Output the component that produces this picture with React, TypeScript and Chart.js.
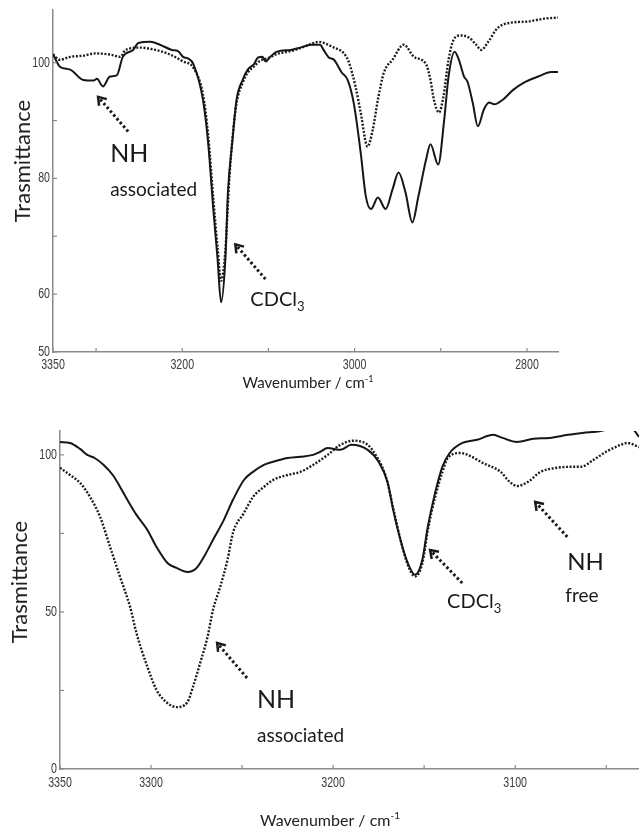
import React, { useEffect, useRef } from 'react';
import { Chart, registerables } from 'chart.js';

Chart.register(...registerables);

// ---------- Top chart data ----------
const topSolidWavenumber = [
  3350, 3342, 3330, 3315, 3303, 3299, 3292, 3284, 3276, 3269, 3257, 3251, 3237, 3226, 3212, 3205, 3199, 3193, 3187,
  3176, 3170, 3164, 3159, 3155, 3150, 3147, 3142, 3137, 3130, 3124, 3117, 3112, 3107, 3103, 3098, 3090, 3074, 3063,
  3051, 3040, 3036, 3030, 3024, 3015, 3008, 3001, 2993, 2987, 2981, 2973, 2964, 2956, 2949, 2941, 2933, 2926, 2917,
  2912, 2903, 2896, 2891, 2884, 2879, 2873, 2869, 2863, 2857, 2850, 2844, 2838, 2828, 2816, 2803, 2787, 2772, 2763,
];
const topSolidTransmittance = [
  101.5, 99.3, 98.8, 97.0, 96.9, 97.2, 95.9, 97.6, 97.8, 101.0, 102.2, 103.4, 103.6, 103.1, 102.2, 102.0, 101.0, 100.7, 99.7,
  93.6, 86.2, 74.7, 66.0, 58.6, 66.0, 77.6, 86.2, 93.6, 97.0, 98.8, 99.7, 100.9, 101.0, 100.2, 101.0, 101.9, 102.2, 102.6,
  103.1, 103.1, 102.2, 100.9, 100.5, 98.3, 97.0, 93.0, 84.5, 76.9, 74.7, 76.7, 74.7, 78.1, 81.0, 77.6, 72.4, 76.9, 83.3,
  85.9, 82.4, 90.2, 97.6, 101.9, 100.5, 97.6, 96.7, 93.1, 89.0, 91.9, 93.1, 92.8, 93.6, 95.3, 96.6, 97.6, 98.4, 98.4,
];
const topDottedWavenumber = [
  3350, 3342, 3330, 3315, 3301, 3284, 3272, 3266, 3249, 3231, 3214, 3199, 3187, 3176, 3170, 3164, 3159, 3155, 3150,
  3146, 3142, 3137, 3130, 3124, 3117, 3110, 3100, 3090, 3074, 3063, 3051, 3042, 3024, 3013, 3007, 2999, 2993, 2985,
  2979, 2973, 2966, 2956, 2943, 2931, 2917, 2912, 2908, 2902, 2897, 2891, 2885, 2877, 2867, 2859, 2853, 2845, 2834,
  2819, 2800, 2780, 2764,
];
const topDottedTransmittance = [
  101.4, 100.5, 101.0, 101.2, 101.6, 101.4, 101.0, 102.2, 102.6, 102.2, 101.4, 100.2, 99.1, 94.5, 87.5, 76.5, 68.0, 62.3, 67.5,
  78.5, 86.5, 93.0, 96.5, 98.3, 99.3, 100.3, 100.8, 101.5, 102.0, 102.5, 103.2, 103.6, 102.6, 101.7, 100.2, 95.9, 91.4, 85.5,
  88.4, 93.6, 98.3, 100.5, 103.1, 101.0, 99.7, 97.0, 93.6, 91.4, 94.1, 100.5, 104.0, 104.7, 104.3, 103.1, 102.2, 103.6, 106.0,
  106.9, 107.1, 107.6, 107.8,
];
const topXTicks = [2800, 2900, 3000, 3100, 3200, 3300, 3350];
const topXLabels = [2800, 3000, 3200, 3350];
const topYTicks = [50, 60, 70, 80, 90, 100];
const topYLabels = [50, 60, 80, 100];

// ---------- Bottom chart data ----------
const bottomSolidWavenumber = [
  3350, 3344.5, 3339, 3335, 3331, 3326, 3321, 3317, 3313, 3308, 3302, 3297, 3291, 3286, 3280, 3275, 3271, 3266, 3260,
  3255, 3249, 3244, 3238, 3233, 3225, 3218, 3211, 3207, 3203, 3196, 3190, 3181, 3175, 3170, 3167, 3163, 3159, 3155,
  3151, 3148, 3144, 3140, 3136, 3129, 3121, 3112, 3107, 3099, 3090, 3081, 3071, 3063, 3053, 3048, 3041, 3035, 3032,
];
const bottomSolidTransmittance = [
  104.1, 103.8, 101.9, 100.0, 99.0, 96.8, 93.6, 89.8, 85.7, 80.9, 76.1, 70.7, 65.6, 64.0, 62.7, 64.0, 67.5, 72.9, 79.3,
  85.7, 92.0, 94.6, 96.8, 97.8, 99.0, 99.4, 100.0, 101.0, 102.2, 101.6, 103.2, 101.6, 97.8, 91.1, 82.5, 72.9, 65.6, 61.8,
  66.6, 77.1, 87.9, 96.2, 100.6, 103.8, 104.8, 106.4, 105.4, 104.1, 105.1, 105.4, 106.4, 107.0, 107.6, 108.3, 109.5, 108.0, 105.7,
];
const bottomDottedWavenumber = [
  3350, 3344.5, 3339, 3333.5, 3328, 3322.5, 3317, 3311.5, 3308, 3302, 3297, 3291, 3286, 3280, 3277, 3273, 3269, 3266, 3262,
  3258, 3255, 3249, 3244, 3238, 3233, 3225, 3218, 3211, 3203, 3196, 3189, 3181, 3176, 3171, 3167, 3163, 3159, 3155, 3151,
  3148, 3144, 3140, 3137, 3130, 3126, 3118, 3108, 3103, 3099, 3093, 3086, 3077, 3070, 3064, 3057, 3050, 3042, 3038.5, 3032,
];
const bottomDottedTransmittance = [
  95.9, 93.6, 91.1, 86.6, 80.3, 70.7, 61.1, 51.6, 43.3, 32.5, 25.2, 21.0, 19.7, 21.3, 26.1, 33.8, 42.0, 50.6, 58.0,
  66.6, 75.2, 81.5, 86.6, 89.8, 92.0, 93.6, 94.6, 96.8, 100.0, 103.2, 104.5, 103.2, 99.4, 93.0, 83.0, 73.0, 65.0, 61.3, 65.5,
  76.0, 86.5, 94.5, 99.0, 100.6, 100.0, 97.5, 94.6, 91.4, 90.1, 91.4, 94.6, 95.9, 96.2, 96.2, 98.4, 101.0, 103.2, 103.8, 102.5,
];
const bottomXTicks = [3050, 3100, 3150, 3200, 3250, 3300, 3350];
const bottomXLabels = [3100, 3200, 3300, 3350];
const bottomYTicks = [0, 25, 50, 75, 100];
const bottomYLabels = [0, 50, 100];

const AXIS_TITLE_Y = 'Trasmittance';
const AXIS_TITLE_X = 'Wavenumber / cm';
const AXIS_TITLE_X_SUP = '-1';

const ANNOT_FONT = 'Lato, "Open Sans", sans-serif';
const TICK_FONT = '"Liberation Sans", Arial, sans-serif';

type Seg = { t: string; size: number; dy?: number };
type TextItem = { x: number; y: number; segs: Seg[] };
type ArrowItem = { x1: number; y1: number; x2: number; y2: number };
type TitleItem = { x: number; y: number; segs: Seg[]; rotate?: boolean };
type AnnotOpts = {
  texts: TextItem[];
  arrows: ArrowItem[];
  titles: TitleItem[];
  xLabels: number[];
  yLabels: number[];
  xLabelOffset: number;
};

function segWidth(ctx: CanvasRenderingContext2D, segs: Seg[]) {
  let w = 0;
  for (const s of segs) {
    ctx.font = `${s.size}px ${ANNOT_FONT}`;
    w += ctx.measureText(s.t).width;
  }
  return w;
}

function drawSegs(ctx: CanvasRenderingContext2D, segs: Seg[], x: number, y: number) {
  let cx = x;
  for (const s of segs) {
    ctx.font = `${s.size}px ${ANNOT_FONT}`;
    ctx.fillText(s.t, cx, y + (s.dy || 0));
    cx += ctx.measureText(s.t).width;
  }
}

function condensedText(ctx: CanvasRenderingContext2D, text: string, x: number, y: number, align: CanvasTextAlign) {
  ctx.save();
  ctx.translate(x, y);
  ctx.scale(0.76, 1);
  ctx.textAlign = align;
  ctx.textBaseline = 'middle';
  ctx.fillText(text, 0, 0);
  ctx.restore();
}

const annotPlugin = {
  id: 'annot',
  afterDraw(chart: any, _args: any, opts: AnnotOpts) {
    const ctx: CanvasRenderingContext2D = chart.ctx;
    const xs = chart.scales.x;
    const ys = chart.scales.y;
    const area = chart.chartArea;
    ctx.save();

    // inner tick marks
    ctx.strokeStyle = '#8a8a8a';
    ctx.lineWidth = 1.2;
    ctx.setLineDash([]);
    for (const t of xs.ticks) {
      const px = xs.getPixelForValue(t.value);
      ctx.beginPath();
      ctx.moveTo(px, area.bottom);
      ctx.lineTo(px, area.bottom - 4);
      ctx.stroke();
    }
    for (const t of ys.ticks) {
      const py = ys.getPixelForValue(t.value);
      ctx.beginPath();
      ctx.moveTo(area.left, py);
      ctx.lineTo(area.left + 4, py);
      ctx.stroke();
    }

    // tick labels (condensed, like the original plotting software)
    ctx.fillStyle = '#3c3c3c';
    ctx.font = `14px ${TICK_FONT}`;
    for (const v of opts.xLabels) {
      condensedText(ctx, String(v), xs.getPixelForValue(v), area.bottom + opts.xLabelOffset, 'center');
    }
    for (const v of opts.yLabels) {
      condensedText(ctx, String(v), area.left - 3, ys.getPixelForValue(v), 'right');
    }

    ctx.fillStyle = '#1a1a1a';
    ctx.textAlign = 'left';
    ctx.textBaseline = 'alphabetic';
    for (const t of opts.texts || []) {
      drawSegs(ctx, t.segs, xs.getPixelForValue(t.x), ys.getPixelForValue(t.y));
    }

    for (const a of opts.arrows || []) {
      const x1 = xs.getPixelForValue(a.x1);
      const y1 = ys.getPixelForValue(a.y1);
      const x2 = xs.getPixelForValue(a.x2);
      const y2 = ys.getPixelForValue(a.y2);
      ctx.strokeStyle = '#1a1a1a';
      ctx.lineWidth = 3;
      ctx.lineCap = 'butt';
      ctx.setLineDash([2.5, 2.5]);
      ctx.beginPath();
      ctx.moveTo(x1, y1);
      ctx.lineTo(x2, y2);
      ctx.stroke();
      const ang = Math.atan2(y2 - y1, x2 - x1);
      const hl = 9;
      ctx.setLineDash([]);
      ctx.lineWidth = 2.5;
      ctx.lineJoin = 'miter';
      ctx.beginPath();
      ctx.moveTo(x2 - hl * Math.cos(ang - 0.6), y2 - hl * Math.sin(ang - 0.6));
      ctx.lineTo(x2, y2);
      ctx.lineTo(x2 - hl * Math.cos(ang + 0.6), y2 - hl * Math.sin(ang + 0.6));
      ctx.stroke();
    }

    ctx.fillStyle = '#222';
    for (const t of opts.titles || []) {
      const w = segWidth(ctx, t.segs);
      if (t.rotate) {
        ctx.save();
        ctx.translate(t.x, t.y);
        ctx.rotate(-Math.PI / 2);
        drawSegs(ctx, t.segs, -w / 2, 0);
        ctx.restore();
      } else {
        drawSegs(ctx, t.segs, t.x - w / 2, t.y);
      }
    }
    ctx.restore();
  },
};

function toPoints(xs: number[], ys: number[]) {
  return xs.map((x, i) => ({ x, y: ys[i] }));
}

type Spec = {
  width: number;
  height: number;
  padding: { left: number; right: number; top: number; bottom: number };
  yWidth: number;
  xHeight: number;
  xMin: number;
  xMax: number;
  yMin: number;
  yMax: number;
  xTicks: number[];
  yTicks: number[];
  solid: { x: number; y: number }[];
  dotted: { x: number; y: number }[];
  annot: AnnotOpts;
};

function SpectrumChart({ spec, style }: { spec: Spec; style: React.CSSProperties }) {
  const ref = useRef<HTMLCanvasElement | null>(null);
  useEffect(() => {
    if (!ref.current) return;
    const chart = new Chart(ref.current, {
      type: 'line',
      data: {
        datasets: [
          {
            data: spec.solid,
            borderColor: '#161616',
            borderWidth: 2,
            pointRadius: 0,
            cubicInterpolationMode: 'monotone',
            fill: false,
          },
          {
            data: spec.dotted,
            borderColor: '#1e1e1e',
            borderWidth: 2.4,
            borderDash: [2, 1.6],
            pointRadius: 0,
            cubicInterpolationMode: 'monotone',
            fill: false,
          },
        ],
      },
      options: {
        animation: false,
        responsive: false,
        devicePixelRatio: 1,
        layout: { padding: spec.padding },
        plugins: {
          legend: { display: false },
          tooltip: { enabled: false },
          annot: spec.annot,
        } as any,
        scales: {
          x: {
            type: 'linear',
            reverse: true,
            min: spec.xMin,
            max: spec.xMax,
            afterBuildTicks: (scale: any) => {
              scale.ticks = spec.xTicks.map((v) => ({ value: v }));
            },
            afterFit: (scale: any) => {
              scale.height = spec.xHeight;
            },
            ticks: { display: false, autoSkip: false, maxRotation: 0 },
            grid: { display: true, drawOnChartArea: false, drawTicks: false },
            border: { display: true, color: '#8a8a8a', width: 1.5 },
          },
          y: {
            type: 'linear',
            min: spec.yMin,
            max: spec.yMax,
            afterBuildTicks: (scale: any) => {
              scale.ticks = spec.yTicks.map((v) => ({ value: v }));
            },
            afterFit: (scale: any) => {
              scale.width = spec.yWidth;
            },
            ticks: { display: false, autoSkip: false },
            grid: { display: true, drawOnChartArea: false, drawTicks: false },
            border: { display: true, color: '#8a8a8a', width: 1.5 },
          },
        },
      } as any,
      plugins: [annotPlugin as any],
    });
    return () => chart.destroy();
  }, [spec]);
  return <canvas ref={ref} width={spec.width} height={spec.height} style={{ position: 'absolute', ...style }} />;
}

const xTitleSegs = (size: number): Seg[] => [
  { t: AXIS_TITLE_X, size },
  { t: AXIS_TITLE_X_SUP, size: Math.round(size * 0.62), dy: -Math.round(size * 0.42) },
];

const topSpec: Spec = {
  width: 639,
  height: 395,
  padding: { left: 0, right: 81, top: 10, bottom: 0 },
  yWidth: 53,
  xHeight: 43,
  xMin: 2764,
  xMax: 3350,
  yMin: 50,
  yMax: 109.1,
  xTicks: topXTicks,
  yTicks: topYTicks,
  solid: toPoints(topSolidWavenumber, topSolidTransmittance),
  dotted: toPoints(topDottedWavenumber, topDottedTransmittance),
  annot: {
    xLabels: topXLabels,
    yLabels: topYLabels,
    xLabelOffset: 13,
    texts: [
      { x: 3283.7, y: 82.8, segs: [{ t: 'NH', size: 25 }] },
      { x: 3283.7, y: 76.9, segs: [{ t: 'associated', size: 19 }] },
      { x: 3121, y: 57.9, segs: [{ t: 'CDCl', size: 20 }, { t: '3', size: 13, dy: 5 }] },
    ],
    arrows: [
      { x1: 3262.8, y1: 88.1, x2: 3297.7, y2: 94.1 },
      { x1: 3103.5, y1: 62.6, x2: 3138.4, y2: 68.6 },
    ],
    titles: [
      { x: 30, y: 161, rotate: true, segs: [{ t: AXIS_TITLE_Y, size: 22 }] },
      { x: 308, y: 388, segs: xTitleSegs(15) },
    ],
  },
};

const bottomSpec: Spec = {
  width: 639,
  height: 428,
  padding: { left: 0, right: 0, top: 31, bottom: 0 },
  yWidth: 60,
  xHeight: 59,
  xMin: 3032,
  xMax: 3350,
  yMin: 0,
  yMax: 107.6,
  xTicks: bottomXTicks,
  yTicks: bottomYTicks,
  solid: toPoints(bottomSolidWavenumber, bottomSolidTransmittance),
  dotted: toPoints(bottomDottedWavenumber, bottomDottedTransmittance),
  annot: {
    xLabels: bottomXLabels,
    yLabels: bottomYLabels,
    xLabelOffset: 14,
    texts: [
      { x: 3241.8, y: 19.4, segs: [{ t: 'NH', size: 25 }] },
      { x: 3241.8, y: 8.6, segs: [{ t: 'associated', size: 19 }] },
      { x: 3137.4, y: 51.3, segs: [{ t: 'CDCl', size: 20 }, { t: '3', size: 13, dy: 5 }] },
      { x: 3071.4, y: 63.4, segs: [{ t: 'NH', size: 24 }] },
      { x: 3072.5, y: 53.2, segs: [{ t: 'free', size: 19 }] },
    ],
    arrows: [
      { x1: 3247.3, y1: 29.0, x2: 3263.7, y2: 40.1 },
      { x1: 3129.1, y1: 59.2, x2: 3146.7, y2: 69.7 },
      { x1: 3071.4, y1: 73.9, x2: 3089, y2: 85.0 },
    ],
    // canvas coordinates (the canvas starts 400px down the page)
    titles: [
      { x: 27, y: 182, rotate: true, segs: [{ t: AXIS_TITLE_Y, size: 22 }] },
      { x: 330, y: 426, segs: xTitleSegs(16) },
    ],
  },
};

export default function App() {
  return (
    <div style={{ position: 'absolute', left: 0, top: 0, width: 639, height: 828, background: '#fff' }}>
      <SpectrumChart spec={topSpec} style={{ left: 0, top: 0 }} />
      <SpectrumChart spec={bottomSpec} style={{ left: 0, top: 400 }} />
    </div>
  );
}
